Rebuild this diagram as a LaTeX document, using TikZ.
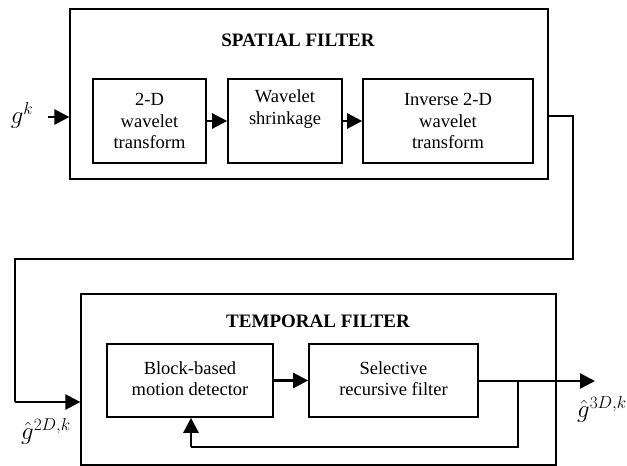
\documentclass[tikz,border=0pt]{standalone}
\usepackage{fontspec}
\setmainfont{Liberation Serif}
\usetikzlibrary{arrows.meta}
\newcommand{\twolines}[2]{\raisebox{5pt}{\begin{tabular}{@{}c@{}}#1\\#2\end{tabular}}}
\begin{document}
\begin{tikzpicture}[x=1pt,y=-1pt,
  txt/.style={font=\fontsize{18.5}{21.5}\selectfont, align=center, inner sep=0pt},
  outerbox/.style={draw, line width=1.2pt, inner sep=0pt},
  innerbox/.style={draw, line width=1.6pt, inner sep=0pt, txt},
  title/.style={font=\fontsize{19}{22}\selectfont\bfseries, inner sep=0pt},
  wire/.style={line width=2.4pt},
  thinwire/.style={line width=1.3pt},
  arr/.style={wire, -{Triangle[length=15pt,width=15pt]}},
  mathlbl/.style={font=\fontsize{24}{28}\selectfont, inner sep=0pt}]
\useasboundingbox (0,0) rectangle (627,466);
% spatial filter
\node[outerbox, minimum width=478pt, minimum height=170pt] (sp) at (309,94) {};
\node[title] (sptitle) at (298,40) {SPATIAL FILTER};
\node[innerbox, minimum width=113pt, minimum height=84pt] (b1) at (149.5,121) {2-D\\wavelet\\transform};
\node[innerbox, minimum width=114pt, minimum height=84pt] (b2) at (285,121) {Wavelet\\shrinkage\\\strut};
\node[innerbox, minimum width=170pt, minimum height=84pt] (b3) at (448,121) {Inverse 2-D\\wavelet\\transform};
\node[mathlbl] (gk) at (22,115) {$g^{k}$};
\coordinate (gin) at (48,117);
\draw[arr] (gin) -- (gin -| sp.west);
\draw[arr] (b1) -- (b2);
\draw[arr] (b2) -- (b3);
% temporal filter
\node[outerbox, minimum width=475pt, minimum height=171pt] (tp) at (318.5,379.5) {};
\node[title] (tptitle) at (318,321) {TEMPORAL FILTER};
\node[innerbox, minimum width=166pt, minimum height=73pt] (bm) at (190,380.5) {\twolines{Block-based}{motion detector}};
\node[innerbox, minimum width=169pt, minimum height=73pt] (sr) at (393.5,380.5) {\twolines{Selective}{recursive filter}};
\draw[arr] (bm) -- (sr);
% connection spatial -> temporal
\coordinate (sout) at (548,116);
\coordinate (c1) at (573,116);
\coordinate (c2) at (573,259);
\coordinate (c3) at (15,259);
\coordinate (c4) at (15,402);
\draw[wire] (sout) -- (c1) -- (c2) -- (c3) -- (c4);
\draw[arr] (c4) -- (c4 -| tp.west);
\node[mathlbl] (g2d) at (46,431) {$\hat{g}^{2D,k}$};
% output and feedback
\coordinate (j) at (518,381);
\coordinate (fb1) at (518,447);
\coordinate (fb2) at (191,447);
\coordinate (outtip) at (595,381);
\draw[thinwire] (sr.east |- j) -- (j);
\draw[arr] (j) -- (outtip);
\draw[wire] (j) -- (fb1) -- (fb2);
\draw[arr] (fb2) -- (fb2 |- bm.south);
\node[mathlbl] (g3d) at (602,409) {$\hat{g}^{3D,k}$};
\end{tikzpicture}
\end{document}
